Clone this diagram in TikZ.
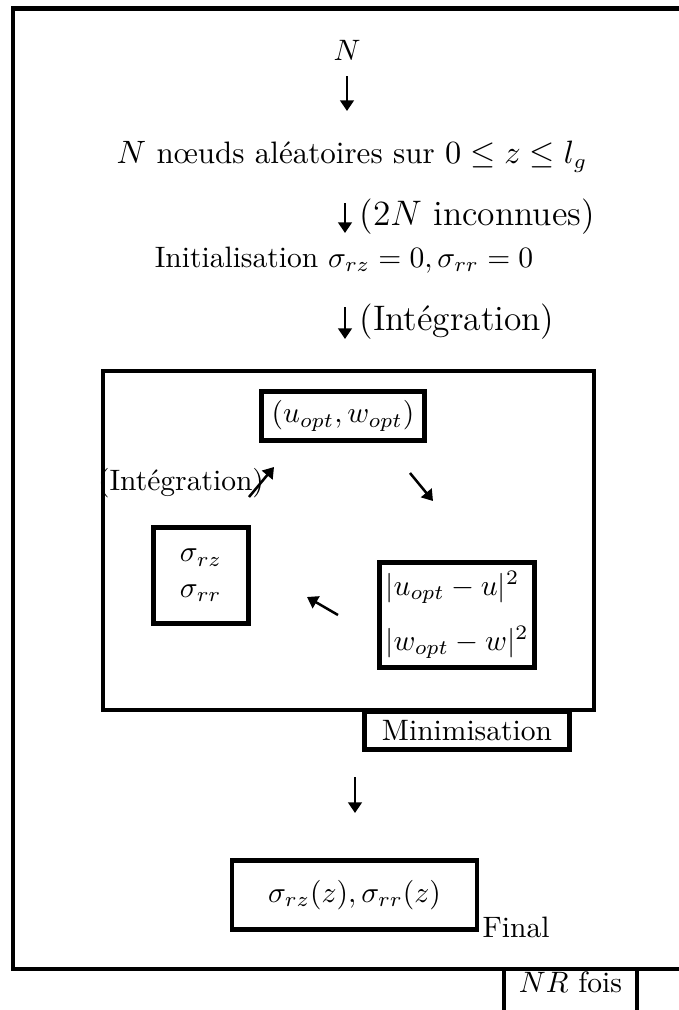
\documentclass[tikz,border=0pt]{standalone}
\usepackage{fontspec}
\usepackage{amsmath}
\usetikzlibrary{arrows.meta,positioning}
\tikzset{
  frameline/.style={line width=1.6pt},
  loopbox/.style={
    draw,
    line width=1.6pt,
    outer sep=0pt,
    inner sep=3pt
  },
  flowtext/.style={inner sep=0pt},
  arrowlabel/.style={flowtext, anchor=west, font=\large},
  flowarrow/.style={
    -{Triangle[length=3.6pt,width=4.6pt]},
    line width=0.85pt
  }
}

\begin{document}
\begin{tikzpicture}[x=0.3385pt, y=-0.3385pt]
  \useasboundingbox (0,0) rectangle (679,1010);
  \clip (0,0) rectangle (679,1010);

  % outer frame
  \draw[frameline] (720,8.5) -- (13,8.5) -- (13,969) -- (720,969);
  \node[loopbox, minimum width=45pt, inner ysep=0pt, text height=7.8pt,
    text depth=20pt, anchor=north] (nr) at (570.5,969) {$NR$ fois};

  \node[flowtext] (n) at (347,50) {$N$};
  \node[flowtext, font=\fontsize{10.5}{12}\selectfont] (nodes) at (352,157)
    {$N$ nœuds aléatoires sur $0\leq z\leq l_g$};
  \node[arrowlabel] (unk) at (359,217) {($2N$ inconnues)};
  \node[flowtext] (init) at (344,260)
    {Initialisation $\sigma_{rz}=0,\sigma_{rr}=0$};
  \node[arrowlabel] (integtop) at (359,322) {(Intégration)};

  \coordinate (a1s) at (347,76);   \coordinate (a1e) at (347,111);
  \coordinate (a2s) at (345,203);  \coordinate (a2e) at (345,233);
  \coordinate (a3s) at (345,307);  \coordinate (a3e) at (345,339);
  \draw[flowarrow] (a1s) -- (a1e);
  \draw[flowarrow] (a2s) -- (a2e);
  \draw[flowarrow] (a3s) -- (a3e);

  % boucle
  \coordinate (loopnw) at (103,371);
  \coordinate (loopse) at (594,710);
  \draw[frameline] (loopnw) rectangle (loopse);

  \node[loopbox, minimum width=55pt, minimum height=13pt] (opt) at (343,416)
    {$(u_{opt},w_{opt})$};
  \node[flowtext] (integ) at (181,483) {(Intégration)};
  \node[loopbox, minimum width=32pt, minimum height=32.5pt, align=left] (sig)
    at (201,575.5) {$\sigma_{rz}$\\$\sigma_{rr}$};
  \node[loopbox, minimum width=52.5pt, minimum height=35.5pt, align=left,
    inner xsep=1pt] (err) at (457,615)
    {$|u_{opt}-u|^2$\\[6.5pt]$|w_{opt}-w|^2$};
  \node[loopbox, minimum width=69.4pt, minimum height=12.5pt] (mini)
    at (467,730.5) {Minimisation};

  \coordinate (nes) at (249,497);  \coordinate (nee) at (274,467);
  \coordinate (ses) at (410,473);  \coordinate (see) at (433,501);
  \coordinate (nws) at (338,615);  \coordinate (nwe) at (307,597);
  \draw[flowarrow] (nes) -- (nee);
  \draw[flowarrow] (ses) -- (see);
  \draw[flowarrow] (nws) -- (nwe);

  \coordinate (a4s) at (355,777);  \coordinate (a4e) at (355,813);
  \draw[flowarrow] (a4s) -- (a4e);

  \node[loopbox, minimum width=83pt, minimum height=23.4pt] (final)
    at (354.5,895) {$\sigma_{rz}(z),\sigma_{rr}(z)$};
  \node[flowtext, anchor=base west] (finaltag) at (482,937) {Final};
\end{tikzpicture}
\end{document}
